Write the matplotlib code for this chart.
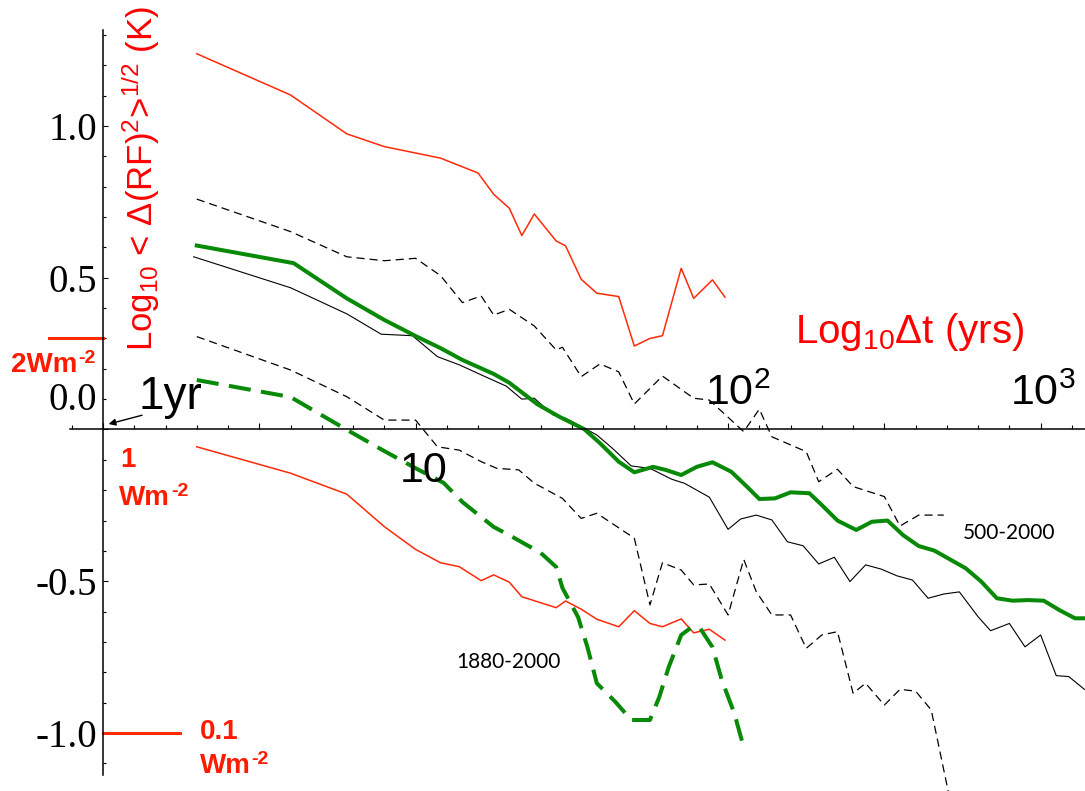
import numpy as np
import matplotlib.pyplot as plt
from matplotlib.ticker import FixedLocator, FixedFormatter

plt.rcParams['font.family'] = ['Liberation Sans', 'DejaVu Sans']
plt.rcParams['mathtext.fontset'] = 'custom'
plt.rcParams['mathtext.rm'] = 'Liberation Sans'
plt.rcParams['mathtext.it'] = 'Liberation Sans:italic'
plt.rcParams['mathtext.bf'] = 'Liberation Sans:bold'

# x: log10 lag (yrs), y: log10 rms fluctuation
# radiative forcing, upper and lower curves (red)
lx_rf_hi = [0.30, 0.60, 0.78, 0.90, 1.08, 1.20, 1.25, 1.30, 1.34, 1.38, 1.45, 1.48,
            1.53, 1.58, 1.65, 1.70, 1.75, 1.79, 1.85, 1.89, 1.95, 1.99]
rf_hi = [1.238, 1.102, 0.974, 0.932, 0.894, 0.845, 0.775, 0.729, 0.639, 0.710, 0.621, 0.605,
         0.495, 0.449, 0.438, 0.275, 0.300, 0.309, 0.531, 0.432, 0.493, 0.436]
lx_rf_lo = [0.30, 0.60, 0.78, 0.90, 1.00, 1.08, 1.14, 1.21, 1.25, 1.30, 1.34, 1.45,
            1.48, 1.53, 1.58, 1.65, 1.70, 1.75, 1.79, 1.85, 1.89, 1.94, 1.99]
rf_lo = [-0.057, -0.144, -0.213, -0.320, -0.395, -0.439, -0.452, -0.498, -0.479, -0.503,
         -0.551, -0.587, -0.565, -0.592, -0.625, -0.650, -0.597, -0.639, -0.650, -0.624,
         -0.670, -0.658, -0.694]

# 500-2000 temperature (thin black)
lx_temp = [0.29, 0.60, 0.78, 0.89, 0.99, 1.07, 1.14, 1.21, 1.29, 1.34, 1.38, 1.44, 1.48,
           1.54, 1.58, 1.63, 1.69, 1.75, 1.82, 1.86, 1.94, 2.00, 2.04, 2.09, 2.14, 2.19,
           2.24, 2.29, 2.34, 2.39, 2.44, 2.49, 2.54, 2.59, 2.64, 2.69, 2.74, 2.80, 2.84,
           2.90, 2.95, 3.00, 3.05, 3.09, 3.14]
temp = [0.569, 0.467, 0.381, 0.314, 0.309, 0.240, 0.213, 0.180, 0.143, 0.100, 0.103, 0.048,
        0.037, 0.004, -0.018, -0.062, -0.120, -0.128, -0.164, -0.177, -0.223, -0.329,
        -0.295, -0.282, -0.298, -0.370, -0.383, -0.443, -0.421, -0.501, -0.446, -0.460,
        -0.482, -0.496, -0.556, -0.542, -0.535, -0.617, -0.663, -0.639, -0.716, -0.677,
        -0.811, -0.814, -0.856]

# spread of the temperature estimate (black dashed)
lx_hi = [0.30, 0.60, 0.78, 0.90, 1.00, 1.08, 1.15, 1.21, 1.25, 1.30, 1.38, 1.45, 1.47,
         1.53, 1.59, 1.65, 1.70, 1.79, 1.89, 1.94, 2.05, 2.10, 2.14, 2.25, 2.29, 2.35,
         2.40, 2.50, 2.55, 2.61, 2.69]
temp_hi = [0.759, 0.652, 0.569, 0.556, 0.564, 0.507, 0.418, 0.440, 0.377, 0.396, 0.341,
           0.262, 0.271, 0.174, 0.216, 0.190, 0.084, 0.176, 0.103, 0.097, -0.007, 0.067,
           -0.024, -0.073, -0.172, -0.131, -0.188, -0.221, -0.318, -0.282, -0.282]
lx_lo = [0.30, 0.60, 0.78, 0.90, 1.00, 1.07, 1.14, 1.21, 1.26, 1.33, 1.38, 1.47, 1.53,
         1.58, 1.70, 1.75, 1.79, 1.85, 1.89, 1.94, 2.00, 2.05, 2.09, 2.14, 2.20, 2.25,
         2.30, 2.35, 2.40, 2.44, 2.50, 2.55, 2.60, 2.65, 2.71]
temp_lo = [0.306, 0.196, 0.108, 0.031, 0.031, -0.057, -0.068, -0.106, -0.128, -0.133,
           -0.177, -0.227, -0.293, -0.276, -0.358, -0.578, -0.439, -0.463, -0.512, -0.509,
           -0.611, -0.428, -0.534, -0.611, -0.611, -0.721, -0.677, -0.666, -0.869, -0.836,
           -0.908, -0.856, -0.862, -0.924, -1.22]

# response estimates (green): 500-2000 solid, 1880-2000 dashed
lx_g500 = [0.30, 0.61, 0.78, 0.90, 1.00, 1.08, 1.15, 1.25, 1.30, 1.39, 1.46, 1.54, 1.59,
           1.65, 1.70, 1.76, 1.80, 1.85, 1.90, 1.95, 2.01, 2.06, 2.10, 2.15, 2.20, 2.26,
           2.30, 2.35, 2.41, 2.46, 2.51, 2.56, 2.61, 2.66, 2.71, 2.76, 2.81, 2.86, 2.91,
           2.96, 3.01, 3.06, 3.11, 3.14]
g500 = [0.606, 0.548, 0.432, 0.361, 0.308, 0.268, 0.229, 0.183, 0.154, 0.083, 0.042, 0.001,
        -0.045, -0.106, -0.141, -0.123, -0.133, -0.150, -0.123, -0.108, -0.139, -0.188,
        -0.229, -0.227, -0.207, -0.210, -0.249, -0.300, -0.331, -0.304, -0.300, -0.348,
        -0.384, -0.399, -0.428, -0.457, -0.501, -0.556, -0.564, -0.562, -0.564, -0.595,
        -0.622, -0.622]
lx_g1880 = [0.30, 0.60, 0.77, 0.90, 1.01, 1.09, 1.15, 1.25, 1.31, 1.40, 1.45, 1.47, 1.52,
            1.55, 1.58, 1.64, 1.69, 1.75, 1.78, 1.81, 1.85, 1.88, 1.91, 1.95, 1.98, 2.02,
            2.05]
g1880 = [0.163, 0.107, 0.005, -0.071, -0.133, -0.176, -0.239, -0.321, -0.354, -0.406,
         -0.453, -0.522, -0.618, -0.717, -0.836, -0.898, -0.957, -0.957, -0.881, -0.783,
         -0.677, -0.654, -0.654, -0.717, -0.826, -0.935, -1.047]

# forcing levels marked on the vertical axis (W m^-2)
forcing_marks = [2, 0.1]

red = '#ff2a08'
lab_red = '#ff1a00'
green = '#088a08'

fig = plt.figure(figsize=(10.85, 7.91), dpi=100)
ax = fig.add_axes([0, 0, 1, 1])
ax.set_xlim(-0.3296, 3.142)
ax.set_ylim(-1.191, 1.415)

ax.plot(lx_rf_hi, rf_hi, color=red, lw=1.1)
ax.plot(lx_rf_lo, rf_lo, color=red, lw=1.1)
ax.plot(lx_hi, temp_hi, color='k', lw=0.9, dashes=(6.5, 4))
ax.plot(lx_lo, temp_lo, color='k', lw=0.9, dashes=(6.5, 4))
ax.plot(lx_temp, temp, color='k', lw=0.8)
ax.plot(lx_g500, g500, color=green, lw=2.9)
ax.plot(lx_g1880, g1880, color=green, lw=2.9, dashes=(5.5, 2.6))

# short red bars for the forcing levels
ax.plot([-0.173, 0], [np.log10(forcing_marks[0])] * 2, color=red, lw=2.2, clip_on=False)
ax.plot([0, 0.246], [np.log10(forcing_marks[1])] * 2, color=red, lw=2.2, clip_on=False)

# axes through the origin
for s in ['top', 'right']:
    ax.spines[s].set_visible(False)
ax.spines['left'].set_position(('data', 0))
ax.spines['bottom'].set_position(('data', 0))
ax.spines['left'].set_bounds(-1.138, 1.316)
ax.spines['bottom'].set_bounds(-0.106, 3.142)
ax.spines['left'].set_linewidth(1.1)
ax.spines['bottom'].set_linewidth(1.1)

ax.xaxis.set_major_locator(FixedLocator(np.arange(0, 7) * 0.5))
ax.xaxis.set_minor_locator(FixedLocator(np.arange(-1, 32) / 10))
ax.tick_params(axis='x', which='both', direction='in', labelbottom=False, width=0.8)
ax.tick_params(axis='x', which='major', length=4.5)
ax.tick_params(axis='x', which='minor', length=3)

ax.yaxis.set_major_locator(FixedLocator([-1, -0.5, 0, 0.5, 1]))
ax.yaxis.set_major_formatter(FixedFormatter(['-1.0', '-0.5', '', '0.5', '1.0']))
ax.yaxis.set_minor_locator(FixedLocator(np.arange(-11, 14) / 10))
ax.tick_params(axis='y', which='both', direction='in', width=0.8, pad=4)
ax.tick_params(axis='y', which='major', length=3.5)
ax.tick_params(axis='y', which='minor', length=2.5)
for lab in ax.get_yticklabels():
    lab.set_fontfamily('Liberation Serif')
    lab.set_fontsize(28)
ax.text(-0.018, 0.094, '0.0', family='Liberation Serif', fontsize=28,
        ha='right', va='center')

# axis titles
ax.text(0.12, 0.825, 'Log$_{10}$ < Δ(RF)$^{2}$>$^{1/2}$ (K)', color='#ff0000',
        fontsize=25, rotation=90, ha='center', va='center')
ax.text(2.214, 0.285, 'Log$_{10}$Δt (yrs)', color='#ff0000', fontsize=29,
        ha='left', va='baseline')

# lag labels
ax.text(0.115, 0.069, '1yr', fontsize=33, ha='left', va='baseline')
ax.annotate('', xy=(0.018, 0.018), xytext=(0.125, 0.047),
            arrowprops=dict(arrowstyle='-|>', lw=1.0, color='k', mutation_scale=10,
                            shrinkA=0, shrinkB=0))
ax.text(0.95, -0.173, '10', fontsize=31, ha='left', va='baseline')
ax.text(1.926, 0.081, '10$^{2}$', fontsize=31, ha='left', va='baseline')
ax.text(2.902, 0.081, '10$^{3}$', fontsize=31, ha='left', va='baseline')


def wm_label(x, y, s):
    # bold red "Wm" with a small raised "-2"
    t = ax.text(x, y, s, color=lab_red, fontsize=20, fontweight='bold',
                ha='left', va='baseline')
    ax.annotate('-2', xy=(1, 1), xycoords=t, xytext=(0.5, 1.5),
                textcoords='offset points', color=lab_red, fontsize=14,
                fontweight='bold', ha='left', va='top')


# forcing level labels
wm_label(-0.293, 0.189, '2Wm')
ax.text(0.054, -0.123, '1', color=lab_red, fontsize=20, fontweight='bold',
        ha='left', va='baseline')
wm_label(0.052, -0.249, 'Wm')
ax.text(0.31, -1.019, '0.1', color=lab_red, fontsize=20, fontweight='bold',
        ha='left', va='baseline')
wm_label(0.31, -1.133, 'Wm')

# period labels
ax.text(2.751, -0.362, '500-2000', family='Lato', fontsize=15, ha='left', va='baseline')
ax.text(1.13, -0.787, '1880-2000', family='Lato', fontsize=15, ha='left', va='baseline')

fig.savefig('out.png', dpi=100)
